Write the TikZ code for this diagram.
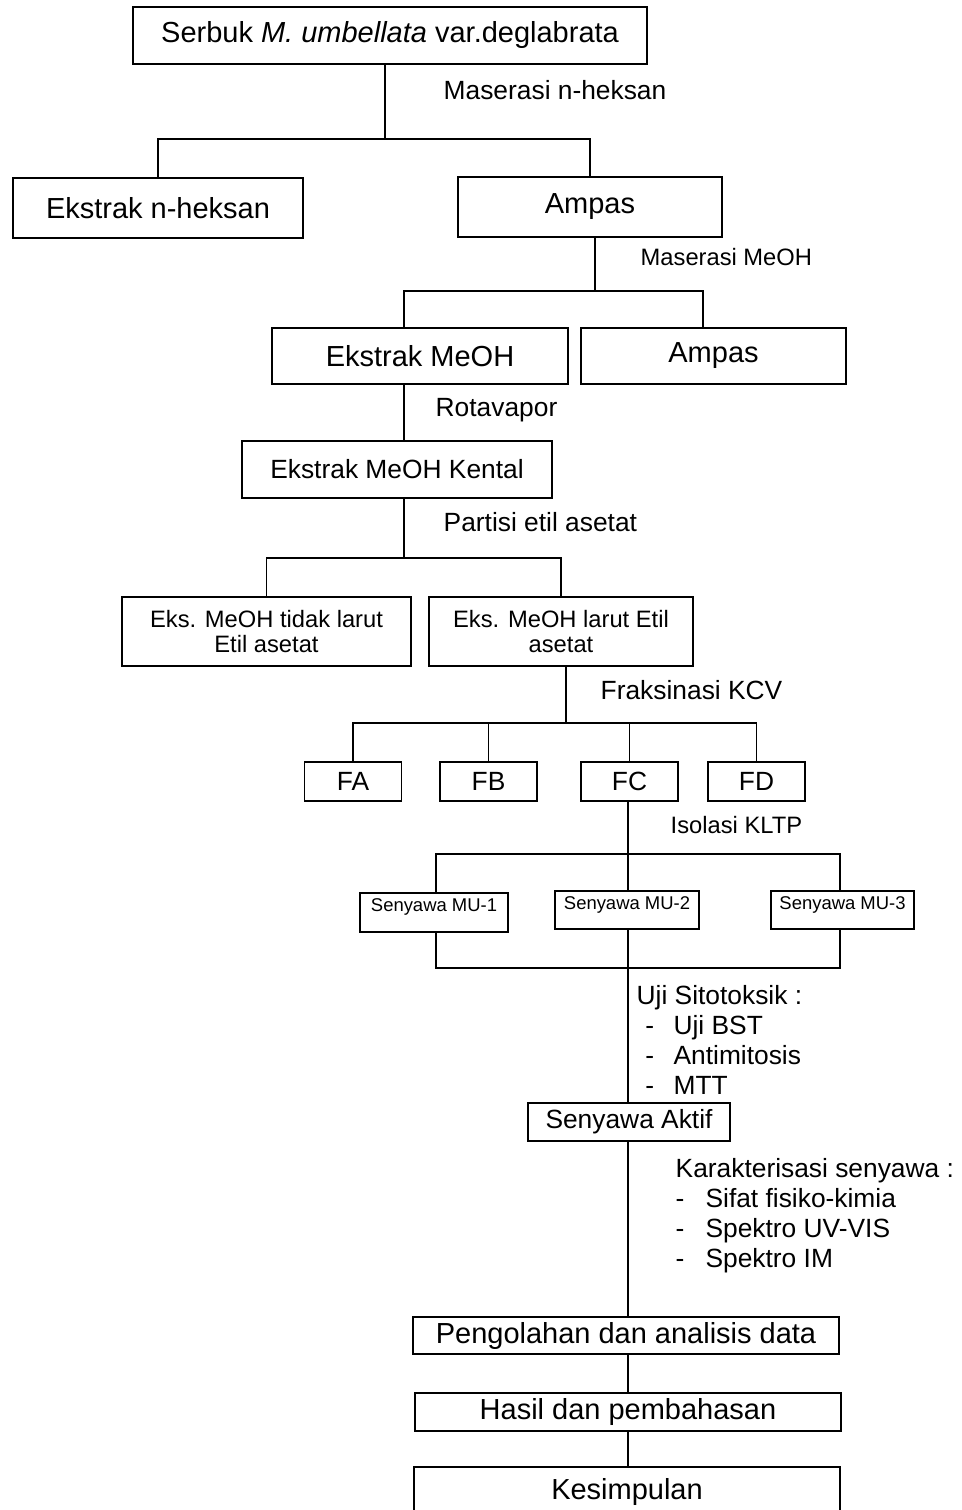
\documentclass[tikz,border=0pt]{standalone}
\usepackage{fontspec}
\setmainfont{Liberation Sans}
\usetikzlibrary{calc}

\newcommand{\itm}[3]{\hspace*{#1}\makebox[#2][l]{-}#3}

\begin{document}
\begin{tikzpicture}[x=0.02cm,y=-0.02cm,line width=0.8pt,
    box/.style={draw,shape=rectangle,inner sep=0pt,align=center},
    bigtxt/.style={font=\fontsize{16.5}{19}\selectfont},
    midtxt/.style={font=\fontsize{15}{17}\selectfont},
    smltxt/.style={font=\fontsize{13.5}{14.7}\selectfont},
    mutxt/.style={font=\fontsize{10.5}{12}\selectfont,text height=7.5pt,text depth=8.5pt},
    lbl/.style={inner sep=0pt,anchor=west}]
  \useasboundingbox (0,0) rectangle (961,1510);
  \clip (0,0) rectangle (961,1510);

  \node [name=serbuk,box,bigtxt,minimum width=10.28cm,minimum height=1.14cm] at (390,35.5) {Serbuk \textit{M. umbellata} var.deglabrata};
  \node [name=nheksan,box,bigtxt,minimum width=5.8cm,minimum height=1.2cm] at (158,208) {Ekstrak n-heksan};
  \node [name=ampasa,box,bigtxt,minimum width=5.28cm,minimum height=1.2cm] at (590,207) {Ampas};
  \node [name=meoh,box,bigtxt,minimum width=5.92cm,minimum height=1.12cm] at (420,356) {Ekstrak MeOH};
  \node [name=ampasb,box,bigtxt,minimum width=5.3cm,minimum height=1.12cm] at (713.5,356) {Ampas};
  \node [name=kental,box,midtxt,minimum width=6.2cm,minimum height=1.14cm] at (397,469.5) {Ekstrak MeOH Kental};
  \node [name=tidak,box,smltxt,minimum width=5.78cm,minimum height=1.38cm] at (266.5,631.5) {Eks. MeOH tidak larut\\Etil asetat};
  \node [name=larut,box,smltxt,minimum width=5.28cm,minimum height=1.38cm] at (561,631.5) {Eks. MeOH larut Etil\\asetat};

  \foreach \f/\x in {FA/353,FB/488.5,FC/629.5,FD/756.5}
    \node [name=\f,box,midtxt,minimum width=1.94cm,minimum height=0.78cm] at (\x,781.5) {\f};

  \node [name=mua,box,mutxt,minimum width=2.96cm,minimum height=0.78cm] at (434,912.5) {Senyawa MU-1};
  \node [name=mub,box,mutxt,minimum width=2.88cm,minimum height=0.76cm] at (627,910) {Senyawa MU-2};
  \node [name=muc,box,mutxt,minimum width=2.86cm,minimum height=0.76cm] at (842.5,910) {Senyawa MU-3};
  \node [name=aktif,box,midtxt,minimum width=4.04cm,minimum height=0.76cm] at (629,1122) {Senyawa Aktif};
  \node [name=olah,box,bigtxt,minimum width=8.52cm,minimum height=0.74cm] at (626,1335.5) {Pengolahan dan analisis data};
  \node [name=hasil,box,bigtxt,minimum width=8.52cm,minimum height=0.76cm] at (628,1412) {Hasil dan pembahasan};
  \node [name=simpul,box,bigtxt,minimum width=8.52cm,minimum height=1.0cm] at (627,1492) {Kesimpulan};

  \node [name=lmasa,lbl,midtxt] at (443,90) {Maserasi n-heksan};
  \node [name=lmasb,lbl,smltxt] at (640,257) {Maserasi MeOH};
  \node [name=lrota,lbl,midtxt] at (435,410) {Rotavapor};
  \node [name=lpart,lbl,midtxt] at (443,522) {Partisi etil asetat};
  \node [name=lfrak,lbl,midtxt] at (600,690) {Fraksinasi KCV};
  \node [name=liso,lbl,smltxt] at (670,825) {Isolasi KLTP};
  \node [name=luji,lbl,midtxt,align=left,anchor=north west] at (636,985)
    {Uji Sitotoksik :\\\itm{5pt}{16pt}{Uji BST}\\\itm{5pt}{16pt}{Antimitosis}\\\itm{5pt}{16pt}{MTT}};
  \node [name=lkar,lbl,midtxt,align=left,anchor=north west] at (675,1158)
    {Karakterisasi senyawa :\\\itm{0pt}{17pt}{Sifat fisiko-kimia}\\\itm{0pt}{17pt}{Spektro UV-VIS}\\\itm{0pt}{17pt}{Spektro IM}};

  \coordinate (ja) at (385,139);
  \draw (serbuk.south -| ja) -- (ja);
  \draw (nheksan.north) -- (nheksan.north |- ja) -- (ampasa.north |- ja) -- (ampasa.north);

  \coordinate (jb) at (595,291);
  \coordinate (jbl) at (404,291);
  \coordinate (jbr) at (703,291);
  \draw (ampasa.south -| jb) -- (jb);
  \draw (meoh.north -| jbl) -- (jbl) -- (jbr) -- (ampasb.north -| jbr);
  \draw (meoh.south -| jbl) -- (kental.north -| jbl);

  \coordinate (jc) at (404,558);
  \draw (kental.south -| jc) -- (jc);
  \draw (tidak.north) -- (tidak.north |- jc) -- (larut.north |- jc) -- (larut.north);

  \coordinate (jd) at (566,723);
  \draw (larut.south -| jd) -- (jd);
  \draw (FA.north) -- (FA.north |- jd) -- (FD.north |- jd) -- (FD.north);
  \foreach \f in {FB,FC}
    \draw (\f.north) -- (\f.north |- jd);

  \coordinate (je) at (628,854);
  \coordinate (jel) at (436,854);
  \coordinate (jer) at (840,854);
  \draw (FC.south -| je) -- (mub.north -| je);
  \draw (mua.north -| jel) -- (jel) -- (jer) -- (muc.north -| jer);

  \coordinate (jf) at (628,968);
  \draw (mua.south -| jel) -- (jel |- jf) -- (jer |- jf) -- (muc.south -| jer);
  \draw (mub.south -| je) -- (aktif.north -| je);
  \draw (aktif.south -| je) -- (olah.north -| je);
  \draw (olah.south -| je) -- (hasil.north -| je);
  \draw (hasil.south -| je) -- (simpul.north -| je);
\end{tikzpicture}
\end{document}
